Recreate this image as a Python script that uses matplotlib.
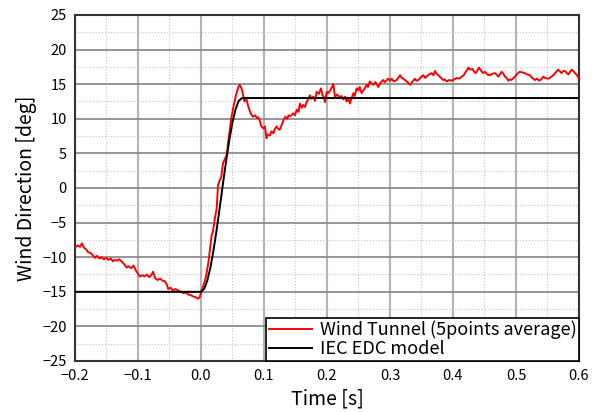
import matplotlib
matplotlib.use('Agg')
import matplotlib.pyplot as plt
from matplotlib.ticker import MultipleLocator

plt.rcParams['font.family'] = ['Noto Sans CJK JP', 'DejaVu Sans']
plt.rcParams['axes.unicode_minus'] = True

# Wind tunnel record (5 points average)
tunnel_t = [
    -0.200, -0.196, -0.192, -0.189, -0.186, -0.182, -0.179, -0.175, -0.172, -0.168,
    -0.165, -0.161, -0.158, -0.154, -0.150, -0.147, -0.143, -0.140, -0.137, -0.133,
    -0.130, -0.126, -0.122, -0.118, -0.115, -0.111, -0.107, -0.104, -0.100, -0.097,
    -0.093, -0.090, -0.086, -0.082, -0.079, -0.076, -0.073, -0.069, -0.065, -0.061,
    -0.057, -0.054, -0.052, -0.048, -0.045, -0.041, -0.038, -0.035, -0.031, -0.028,
    -0.024, -0.020, -0.016, -0.012, -0.008, -0.005, -0.002, 0.000, 0.003, 0.006,
    0.009, 0.012, 0.014, 0.017, 0.019, 0.022, 0.025, 0.027, 0.030, 0.032,
    0.035, 0.038, 0.041, 0.043, 0.046, 0.048, 0.051, 0.054, 0.057, 0.059,
    0.061, 0.063, 0.065, 0.067, 0.069, 0.071, 0.0725, 0.075, 0.078, 0.080,
    0.083, 0.086, 0.089, 0.091, 0.093, 0.096, 0.099, 0.1016, 0.104, 0.106,
    0.1095, 0.112, 0.115, 0.117, 0.120, 0.122, 0.125, 0.128, 0.131, 0.134,
    0.137, 0.139, 0.142, 0.1465, 0.149, 0.152, 0.155, 0.157, 0.160, 0.162,
    0.165, 0.168, 0.170, 0.173, 0.175, 0.178, 0.181, 0.1836, 0.187, 0.1905,
    0.193, 0.195, 0.197, 0.1995, 0.202, 0.205, 0.208, 0.210, 0.2127, 0.216,
    0.2206, 0.223, 0.226, 0.229, 0.231, 0.234, 0.2365, 0.239, 0.242, 0.244,
    0.247, 0.250, 0.252, 0.255, 0.257, 0.260, 0.263, 0.265, 0.268, 0.271,
    0.2735, 0.277, 0.2815, 0.285, 0.289, 0.292, 0.297, 0.300, 0.3027, 0.306,
    0.3106, 0.313, 0.316, 0.319, 0.321, 0.324, 0.3265, 0.329, 0.332, 0.336,
    0.3397, 0.342, 0.345, 0.349, 0.353, 0.356, 0.358, 0.362, 0.366, 0.369,
    0.3714, 0.374, 0.3767, 0.380, 0.3846, 0.387, 0.390, 0.394, 0.398, 0.402,
    0.406, 0.410, 0.414, 0.417, 0.419, 0.422, 0.4243, 0.427, 0.4307, 0.433,
    0.436, 0.439, 0.4413, 0.445, 0.448, 0.4508, 0.4545, 0.4587, 0.462, 0.4667,
    0.469, 0.472, 0.4773, 0.480, 0.4825, 0.485, 0.4878, 0.490, 0.493, 0.496,
    0.4984, 0.502, 0.506, 0.510, 0.514, 0.518, 0.522, 0.526, 0.530, 0.533,
    0.537, 0.540, 0.5434, 0.546, 0.5513, 0.555, 0.5593, 0.563, 0.567, 0.5725,
    0.575, 0.5778, 0.580, 0.583, 0.586, 0.5884, 0.591, 0.5937, 0.597, 0.600,
]
tunnel_deg = [
    -8.6, -8.3, -8.5, -8.0, -8.6, -8.9, -9.3, -9.4, -9.7, -10.1,
    -9.8, -10.2, -10.0, -10.3, -10.1, -10.4, -10.2, -10.6, -10.4, -10.5,
    -10.3, -10.6, -11.0, -11.5, -11.3, -11.6, -11.2, -11.8, -12.4, -12.8,
    -12.6, -12.8, -12.5, -12.9, -12.6, -12.1, -13.0, -13.3, -13.1, -13.4,
    -13.5, -14.0, -14.6, -14.4, -14.8, -14.6, -14.7, -14.9, -15.0, -15.2,
    -15.1, -15.4, -15.5, -15.7, -15.8, -16.0, -15.8, -15.1, -14.3, -13.5,
    -12.3, -10.6, -9.0, -6.8, -6.3, -4.4, -2.9, 0.4, 1.2, 1.5,
    3.6, 4.2, 4.8, 6.5, 8.6, 10.0, 11.5, 12.8, 13.9, 14.5,
    14.9, 14.7, 14.2, 13.4, 12.5, 13.0, 12.7, 11.8, 11.0, 10.6,
    10.3, 10.5, 10.1, 10.2, 9.8, 8.9, 8.6, 8.9, 7.2, 7.7,
    7.6, 8.2, 7.9, 8.5, 8.9, 8.6, 8.4, 9.1, 9.8, 10.3,
    10.0, 10.5, 10.4, 10.8, 10.5, 11.3, 11.0, 12.2, 11.6, 12.0,
    11.7, 12.5, 12.8, 13.4, 12.9, 13.2, 12.6, 13.9, 13.6, 14.4,
    13.4, 13.1, 12.4, 13.9, 13.7, 14.1, 14.6, 15.0, 13.2, 13.5,
    13.1, 13.3, 12.8, 13.2, 12.5, 12.9, 12.2, 13.0, 13.7, 13.3,
    14.4, 14.1, 14.6, 13.7, 14.0, 14.4, 14.9, 14.6, 15.4, 15.1,
    14.9, 15.3, 14.6, 15.2, 15.6, 15.3, 15.8, 15.5, 15.8, 15.4,
    15.6, 15.9, 16.3, 15.9, 15.8, 15.6, 15.4, 15.2, 14.9, 15.4,
    15.8, 15.5, 15.6, 16.0, 16.3, 15.9, 16.1, 16.4, 16.6, 16.3,
    16.9, 16.5, 16.3, 16.0, 15.6, 15.7, 15.4, 15.6, 15.5, 15.7,
    15.9, 15.8, 16.1, 16.3, 16.6, 17.0, 17.4, 17.1, 17.2, 16.9,
    16.6, 17.0, 17.4, 16.9, 16.6, 16.8, 16.4, 16.3, 16.5, 16.6,
    16.4, 16.1, 16.8, 16.5, 16.1, 15.9, 15.5, 15.7, 15.6, 15.9,
    16.1, 16.5, 16.8, 16.7, 16.6, 16.4, 16.3, 15.9, 15.6, 15.8,
    15.5, 15.7, 16.1, 15.9, 15.8, 16.0, 16.3, 16.7, 17.1, 16.6,
    16.9, 16.9, 16.7, 16.4, 16.8, 17.1, 16.9, 16.6, 16.3, 15.8,
]

# IEC EDC model curve
model_t = [-0.200, 0.000, 0.005, 0.010, 0.015, 0.020, 0.025, 0.030, 0.035,
           0.040, 0.045, 0.050, 0.055, 0.060, 0.065, 0.600]
model_deg = [-15.0, -15.0, -14.6, -13.4, -11.5, -8.95, -5.96, -2.69, 0.69,
             3.96, 6.95, 9.48, 11.4, 12.6, 13.0, 13.0]

x_ticks = [-0.2, -0.1, 0.0, 0.1, 0.2, 0.3, 0.4, 0.5, 0.6]
x_labels = ['\u22120.2', '\u22120.1', '0.0', '0.1', '0.2', '0.3', '0.4', '0.5', '0.6']
y_ticks = [-25, -20, -15, -10, -5, 0, 5, 10, 15, 20, 25]
y_labels = ['\u221225', '\u221220', '\u221215', '\u221210', '\u22125', '0',
            '5', '10', '15', '20', '25']

fig = plt.figure(figsize=(5.97, 4.12), dpi=100)
ax = fig.add_axes([0.1256, 0.1238, 0.8442, 0.8398])

ax.plot(tunnel_t, tunnel_deg, color='#ff0000', lw=1.4,
        label='Wind Tunnel (5points average)', zorder=3)
ax.plot(model_t, model_deg, color='black', lw=1.4,
        label='IEC EDC model', zorder=4)

ax.set_xlim(-0.2, 0.6)
ax.set_ylim(-25, 25)
ax.set_xticks(x_ticks)
ax.set_xticklabels(x_labels)
ax.set_yticks(y_ticks)
ax.set_yticklabels(y_labels)
ax.xaxis.set_minor_locator(MultipleLocator(0.05))
ax.yaxis.set_minor_locator(MultipleLocator(2.5))
ax.tick_params(which='both', length=0, labelsize=10.5, pad=6)

ax.set_axisbelow(True)
ax.grid(which='major', axis='x', color='#b4b4b4', lw=1.5, ls='-')
ax.grid(which='major', axis='y', color='#8c8c8c', lw=1.3, ls='-')
ax.grid(which='minor', color='#c4c4c4', lw=0.8, ls=':')

for side in ax.spines.values():
    side.set_color('#333333')
    side.set_linewidth(1.5)

ax.set_xlabel('Time [s]', fontsize=14, labelpad=4)
ax.set_ylabel('Wind Direction [deg]', fontsize=14, labelpad=4)

leg = ax.legend(loc='lower right', bbox_to_anchor=(1.0, 0.0), borderaxespad=0,
                fancybox=False, framealpha=1, edgecolor='black', fontsize=13,
                handlelength=2.4, handletextpad=0.4, borderpad=0.15,
                labelspacing=0.05)
leg.get_frame().set_linewidth(1.2)

fig.savefig('out.png', dpi=100)
